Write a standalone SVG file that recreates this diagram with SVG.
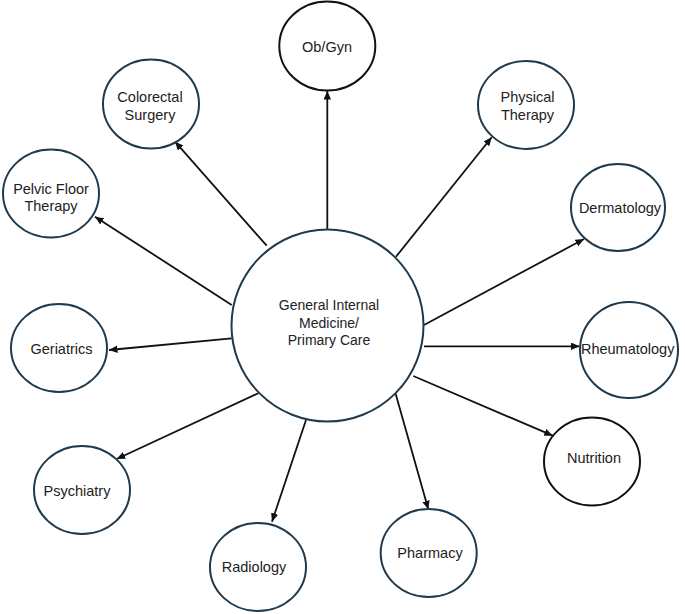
<svg xmlns="http://www.w3.org/2000/svg" width="685" height="614" viewBox="0 0 685 614">
<style>
  .node { fill: #ffffff; stroke: #1f3a4d; stroke-width: 2; }
  .dark { stroke: #111111; }
  .lbl { font-family: "Liberation Sans", Arial, sans-serif; font-size: 14.5px; fill: #222222; text-anchor: middle; }
  .clbl { font-size: 14px; }
  .edge { stroke: #111111; stroke-width: 1.8; fill: none; marker-end: url(#arr); }
</style>
<defs>
  <marker id="arr" markerUnits="userSpaceOnUse" markerWidth="9" markerHeight="8" refX="8.5" refY="3.75" orient="auto">
    <path d="M0,0 L8.5,3.75 L0,7.5 z" fill="#111111"/>
  </marker>
</defs>
<rect width="685" height="614" fill="#ffffff"/>
<g id="connectors">
  <line class="edge" x1="327.3" y1="230" x2="327.3" y2="91"/>
  <line class="edge" x1="266.7" y1="245.7" x2="175" y2="141.7"/>
  <line class="edge" x1="396" y1="256.7" x2="491.7" y2="137.3"/>
  <line class="edge" x1="231.7" y1="305" x2="95" y2="216.7"/>
  <line class="edge" x1="424" y1="325" x2="584" y2="239"/>
  <line class="edge" x1="231.7" y1="338.3" x2="109" y2="350"/>
  <line class="edge" x1="424" y1="346.3" x2="579.5" y2="346.3"/>
  <line class="edge" x1="413.3" y1="376" x2="552.7" y2="435.7"/>
  <line class="edge" x1="395.7" y1="394" x2="428.3" y2="509.3"/>
  <line class="edge" x1="306" y1="420" x2="272" y2="521.7"/>
  <line class="edge" x1="258.3" y1="393.3" x2="116.7" y2="459"/>
</g>
<g id="center">
  <circle class="node" cx="327.5" cy="325.5" r="96"/>
  <text class="lbl clbl" x="329" y="310">General Internal</text>
  <text class="lbl clbl" x="329" y="327.5">Medicine/</text>
  <text class="lbl clbl" x="329" y="345">Primary Care</text>
</g>
<g id="obgyn">
  <ellipse class="node dark" cx="327.3" cy="46" rx="48" ry="44.5"/>
  <text class="lbl" x="327" y="52">Ob/Gyn</text>
</g>
<g id="colorectal">
  <ellipse class="node" cx="151" cy="104" rx="48" ry="44.5"/>
  <text class="lbl" x="150" y="102">Colorectal</text>
  <text class="lbl" x="150" y="119.5">Surgery</text>
</g>
<g id="physical">
  <ellipse class="node" cx="526" cy="105" rx="48" ry="44"/>
  <text class="lbl" x="527.5" y="102">Physical</text>
  <text class="lbl" x="527.5" y="120">Therapy</text>
</g>
<g id="pelvic">
  <ellipse class="node" cx="51" cy="193.5" rx="48" ry="44"/>
  <text class="lbl" x="51" y="194">Pelvic Floor</text>
  <text class="lbl" x="51" y="211">Therapy</text>
</g>
<g id="dermatology">
  <ellipse class="node" cx="618" cy="207.5" rx="47" ry="43.5"/>
  <text class="lbl" x="620" y="212.7">Dermatology</text>
</g>
<g id="geriatrics">
  <ellipse class="node" cx="59" cy="348" rx="48" ry="44"/>
  <text class="lbl" x="61.5" y="354">Geriatrics</text>
</g>
<g id="rheumatology">
  <ellipse class="node" cx="629" cy="350" rx="49" ry="48"/>
  <text class="lbl" x="627.7" y="354">Rheumatology</text>
</g>
<g id="nutrition">
  <ellipse class="node dark" cx="592" cy="461.5" rx="48" ry="44"/>
  <text class="lbl" x="594" y="462.7">Nutrition</text>
</g>
<g id="psychiatry">
  <ellipse class="node" cx="82" cy="490" rx="48" ry="44"/>
  <text class="lbl" x="77" y="495.7">Psychiatry</text>
</g>
<g id="radiology">
  <ellipse class="node" cx="258" cy="567" rx="48" ry="44"/>
  <text class="lbl" x="254" y="572">Radiology</text>
</g>
<g id="pharmacy">
  <ellipse class="node" cx="428.7" cy="553" rx="48" ry="44"/>
  <text class="lbl" x="430" y="557.7">Pharmacy</text>
</g>
</svg>
